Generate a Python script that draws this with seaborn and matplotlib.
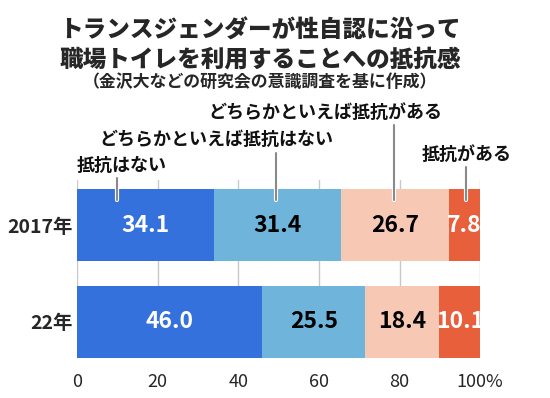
import numpy as np
import pandas as pd
import matplotlib
matplotlib.use("Agg")
import matplotlib.pyplot as plt
import matplotlib.patheffects as pe
import seaborn as sns

# =========================
# DATA
# =========================
years = ["2017年", "22年"]
categories = ["抵抗はない", "どちらかといえば抵抗はない", "どちらかといえば抵抗がある", "抵抗がある"]
values_2017 = [34.1, 31.4, 26.7, 7.8]
values_2022 = [46.0, 25.5, 18.4, 10.1]
tick_values = [0, 20, 40, 60, 80, 100]
tick_labels = ["0", "20", "40", "60", "80", "100%"]

colors = ["#3571DC", "#6FB4DA", "#F7C9B4", "#E8603B"]
text_colors = ["white", "black", "black", "white"]

title = "トランスジェンダーが性自認に沿って\n職場トイレを利用することへの抵抗感"
subtitle = "（金沢大などの研究会の意識調査を基に作成）"

# =========================
# LONG TABLE + CUMULATIVE
# =========================
rows = []
for year, vals in zip(years, [values_2017, values_2022]):
    cum = np.cumsum(vals)
    for cat, v, c in zip(categories, vals, cum):
        rows.append({"year": year, "category": cat, "value": v, "cum": c, "left": c - v})
df = pd.DataFrame(rows)

# =========================
# PLOT
# =========================
sns.set_style("white")
plt.rcParams["font.family"] = ["Noto Sans CJK JP", "DejaVu Sans"]

fig = plt.figure(figsize=(5.5, 3.98), dpi=100)
ax = fig.add_axes([0.14, 0.1005, 0.733, 0.4475])

for x in tick_values:
    ax.axvline(x, color="#c8c8c8", lw=1, zorder=0)

# stacked bars: draw cumulative totals from the back
for cat, color in reversed(list(zip(categories, colors))):
    sub = df[df["category"] == cat]
    sns.barplot(data=sub, x="cum", y="year", order=years, color=color,
                saturation=1, width=0.75, orient="h", linewidth=0, ax=ax, zorder=2)

# value labels
for _, r in df.iterrows():
    i = categories.index(r["category"])
    yi = years.index(r["year"])
    ax.text(r["left"] + r["value"] / 2, yi, f"{r['value']:.1f}", ha="center", va="center",
            fontsize=16.5, fontweight="bold", color=text_colors[i], zorder=5)

# legend labels with leader lines
label_pos = [
    (10.0, -0.49, 0.0, -0.62, "left"),
    (49.4, -0.75, 34.5, -0.89, "center"),
    (78.7, -1.04, 61.5, -1.17, "center"),
    (96.5, -0.605, 107.8, -0.73, "right"),
]
for cat, (lx, ltop, tx, ty, ha) in zip(categories, label_pos):
    ax.plot([lx, lx], [ltop, -0.263], color="#8a8a8a", lw=1.5, clip_on=False, zorder=6,
            path_effects=[pe.Stroke(linewidth=3, foreground="white"), pe.Normal()])
    ax.text(tx, ty, cat, ha=ha, va="center", fontsize=13, fontweight="bold",
            color="#111111", clip_on=False)

ax.set_xlim(0, 100)
ax.set_ylim(1.375, -0.47)
ax.set_xticks(tick_values)
ax.set_xticklabels(tick_labels, fontsize=13)
ax.set_yticks(range(len(years)))
ax.set_yticklabels(years, fontsize=14, fontweight="bold")
ax.tick_params(axis="x", length=0, pad=11)
ax.tick_params(axis="y", length=0, pad=3)
ax.set_xlabel("")
ax.set_ylabel("")
sns.despine(ax=ax, left=True, bottom=True)

fig.text(0.473, 0.888, title, ha="center", va="center", fontsize=17, fontweight="heavy",
         linespacing=1.2)
fig.text(0.473, 0.794, subtitle, ha="center", va="center", fontsize=12.2, fontweight="bold")

fig.savefig("out.png", dpi=100)
